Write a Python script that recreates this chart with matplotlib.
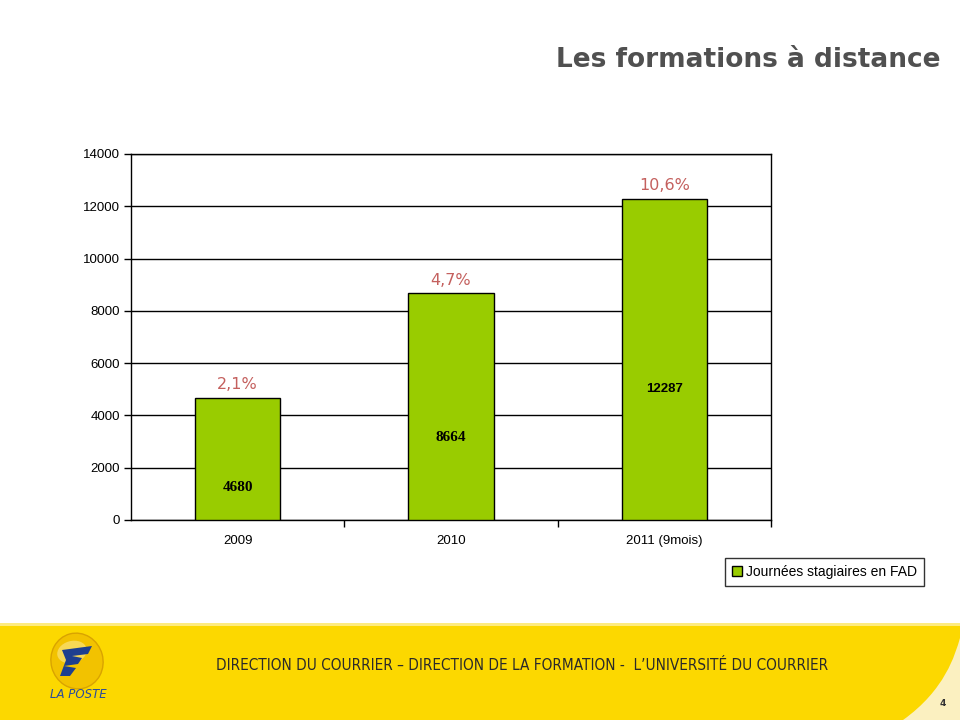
import matplotlib
matplotlib.use("Agg")
import matplotlib.pyplot as plt
from matplotlib.patches import Rectangle, Ellipse, Polygon, PathPatch
from matplotlib.path import Path

# ---- data ----
categories = ["2009", "2010", "2011 (9mois)"]
values = [4680, 8664, 12287]
growth_labels = ["2,1%", "4,7%", "10,6%"]
series_name = "Journées stagiaires en FAD"
yticks = [0, 2000, 4000, 6000, 8000, 10000, 12000, 14000]

# layout (label heights in data units, inside bars)
inner_label_y = [1250, 3150, 5000]
inner_label_fonts = [["Liberation Serif"], ["Liberation Serif"], ["Liberation Sans"]]
inner_label_sizes = [11, 11, 9.5]

W, H = 960, 720
fig = plt.figure(figsize=(9.6, 7.2), dpi=100)
fig.patch.set_facecolor("white")

# ---- footer band ----
bg = fig.add_axes([0, 0, 1, 1], zorder=-10)
bg.set_xlim(0, W)
bg.set_ylim(H, 0)
bg.axis("off")
bg.add_patch(Rectangle((0, 625), W, 95, facecolor="#FCD800", edgecolor="none"))
bg.add_patch(Rectangle((0, 623), W, 3, facecolor="#FDEB80", edgecolor="none"))
# cream corner curve
bg.add_patch(PathPatch(Path([(960, 720), (903, 720), (945, 690), (955, 655), (960, 638), (960, 720)],
                            [Path.MOVETO, Path.LINETO, Path.CURVE4, Path.CURVE4, Path.CURVE4, Path.CLOSEPOLY]),
                       facecolor="#FBF0C0", edgecolor="none"))
# logo
bg.add_patch(Ellipse((77, 661), 52, 56, angle=-15, facecolor="#F2C200", edgecolor="#D9A300", lw=1))
bg.add_patch(Ellipse((72, 652), 30, 22, angle=-15, facecolor="#FAE27A", edgecolor="none", alpha=0.7))
bg.add_patch(Polygon([(62, 650), (92, 646), (88, 654), (72, 656), (82, 658), (78, 664), (64, 666),
                      (76, 668), (70, 676), (60, 676), (66, 660)],
                     closed=True, facecolor="#1E3F8F", edgecolor="none"))
bg.text(78, 695, "LA POSTE", ha="center", va="center", fontsize=8.5, style="italic",
        color="#2B4C9B", family="DejaVu Sans")
bg.text(522, 665, "DIRECTION DU COURRIER \u2013 DIRECTION DE LA FORMATION -  L\u2019UNIVERSITÉ DU COURRIER",
        ha="center", va="center", fontsize=11, color="#2A2A2A", family="DejaVu Sans",
        fontweight="normal", fontstretch="condensed")
bg.text(943, 704, "4", ha="center", va="center", fontsize=6.5, color="#333333", fontweight="bold")

# title
fig.text(940 / W, 1 - 60 / H, "Les formations à distance", ha="right", va="center",
         fontsize=19, fontweight="bold", color="#505050", family="DejaVu Sans")

# ---- chart ----
ax = fig.add_axes([131 / W, 1 - 520 / H, 640 / W, 366 / H])
x = list(range(len(categories)))
bars = ax.bar(x, values, width=0.4, color="#99CC00", edgecolor="black", linewidth=1, zorder=3,
              label=series_name)
ax.set_xlim(-0.5, len(categories) - 0.5)
ax.set_ylim(0, 14000)
ax.set_yticks(yticks)
ax.set_yticklabels([str(v) for v in yticks], family="Liberation Sans", fontsize=9.5)
ax.yaxis.grid(True, color="black", linewidth=1, zorder=0)
ax.set_axisbelow(True)
ax.tick_params(axis="y", direction="out", length=5, width=1, pad=3)

# x ticks at category boundaries, labels at centers
ax.set_xticks([i + 0.5 for i in x[:-1]] + [len(categories) - 0.5])
ax.set_xticklabels([])
ax.tick_params(axis="x", direction="out", length=5, width=1)
for i, c in enumerate(categories):
    ax.text(i, -0.04, c, transform=ax.get_xaxis_transform(), ha="center", va="top",
            family="Liberation Sans", fontsize=9.5)
for s in ax.spines.values():
    s.set_color("black")
    s.set_linewidth(1)

for i, (v, lab) in enumerate(zip(values, growth_labels)):
    ax.annotate(lab, (i, v), xytext=(0, 4), textcoords="offset points", ha="center", va="bottom",
                fontsize=11.5, color="#C4605E", family="DejaVu Sans")
    ax.text(i, inner_label_y[i], str(v), ha="center", va="center", fontsize=inner_label_sizes[i],
            fontweight="bold", family=inner_label_fonts[i], color="black", zorder=4)

leg = fig.legend(handles=[bars], labels=[series_name], loc="center",
                 bbox_to_anchor=(824.5 / W, 1 - 572 / H), frameon=True, fancybox=False,
                 prop={"family": "Liberation Sans", "size": 10}, handlelength=0.7,
                 handleheight=0.7, handletextpad=0.3, borderpad=0.5, borderaxespad=0)
leg.get_frame().set_edgecolor("black")
leg.get_frame().set_linewidth(1)

fig.savefig("out.png", dpi=100)
